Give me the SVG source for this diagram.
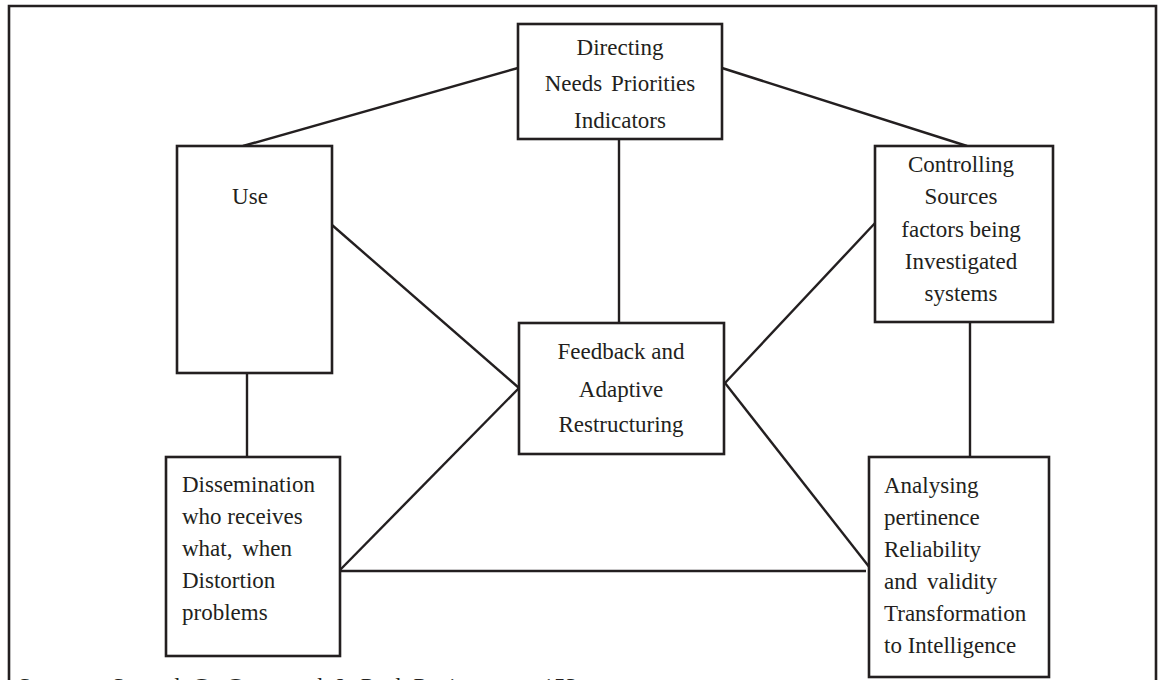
<svg xmlns="http://www.w3.org/2000/svg" width="1161" height="680" viewBox="0 0 1161 680">
  <style>
    .box { fill: #ffffff; stroke: #231f20; stroke-width: 2.6; }
    .frame { fill: none; stroke: #231f20; stroke-width: 2.6; }
    .conn line { stroke: #231f20; stroke-width: 2.4; }
    text { font-family: "Liberation Serif", "Times New Roman", serif; font-size: 23px; fill: #231f20; }
    .c { text-anchor: middle; }
  </style>
  <rect width="1161" height="680" fill="#ffffff"/>
  <!-- outer frame, open at the bottom -->
  <path class="frame" d="M9,690 V6 H1156 V690"/>

  <g id="connectors" class="conn">
    <line x1="243" y1="146" x2="518" y2="68"/>
    <line x1="722" y1="68" x2="967" y2="146"/>
    <line x1="619" y1="139" x2="619" y2="323"/>
    <line x1="332" y1="225" x2="519" y2="388"/>
    <line x1="876" y1="222" x2="725" y2="383"/>
    <line x1="725" y1="383" x2="870" y2="568"/>
    <line x1="519" y1="388" x2="340" y2="570"/>
    <line x1="340" y1="571" x2="866" y2="571"/>
    <line x1="247" y1="373" x2="247" y2="457"/>
    <line x1="970" y1="322" x2="970" y2="457"/>
  </g>

  <g id="directing">
    <rect class="box" x="518" y="24" width="204" height="115"/>
    <text class="c" x="620" y="55">Directing</text>
    <text class="c" x="620" y="91" word-spacing="3">Needs Priorities</text>
    <text class="c" x="620" y="128">Indicators</text>
  </g>

  <g id="use">
    <rect class="box" x="177" y="146" width="155" height="227"/>
    <text class="c" x="250" y="204">Use</text>
  </g>

  <g id="controlling">
    <rect class="box" x="875" y="146" width="178" height="176"/>
    <text class="c" x="961" y="172">Controlling</text>
    <text class="c" x="961" y="204">Sources</text>
    <text class="c" x="961" y="237">factors being</text>
    <text class="c" x="961" y="269">Investigated</text>
    <text class="c" x="961" y="301">systems</text>
  </g>

  <g id="feedback">
    <rect class="box" x="519" y="323" width="205" height="131"/>
    <text class="c" x="621" y="359">Feedback and</text>
    <text class="c" x="621" y="397">Adaptive</text>
    <text class="c" x="621" y="432">Restructuring</text>
  </g>

  <g id="dissemination">
    <rect class="box" x="166" y="457" width="174" height="199"/>
    <text x="182" y="492">Dissemination</text>
    <text x="182" y="524">who receives</text>
    <text x="182" y="556" word-spacing="4">what, when</text>
    <text x="182" y="588">Distortion</text>
    <text x="182" y="620">problems</text>
  </g>

  <g id="analysing">
    <rect class="box" x="869" y="457" width="180" height="220"/>
    <text x="884" y="493">Analysing</text>
    <text x="884" y="525">pertinence</text>
    <text x="884" y="557">Reliability</text>
    <text x="884" y="589" word-spacing="4">and validity</text>
    <text x="884" y="621">Transformation</text>
    <text x="884" y="653">to Intelligence</text>
  </g>

  <!-- source line runs past the lower edge of the sheet -->
  <text id="source" x="18" y="694" word-spacing="6">Source : Samuel G. Gatto and J. Paul Pettigrew p. 153</text>
</svg>
